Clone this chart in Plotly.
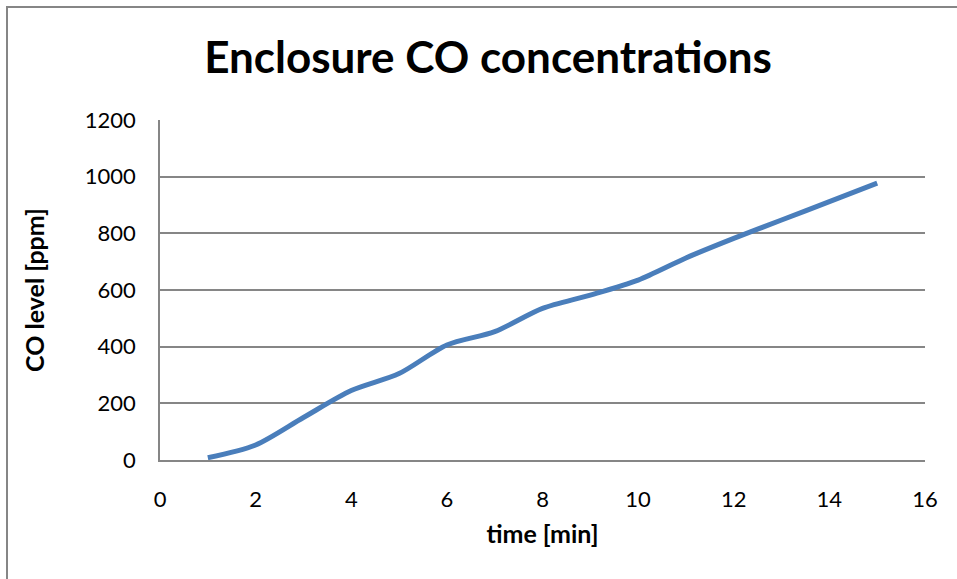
import plotly.graph_objects as go

time_min = [1, 2, 3, 4, 5, 6, 7, 8, 9, 10, 11, 12, 13, 14, 15]
co_ppm = [8, 53, 150, 245, 305, 406, 453, 535, 582, 635, 713, 782, 847, 912, 977]

x_ticks = [0, 2, 4, 6, 8, 10, 12, 14, 16]
y_ticks = [0, 200, 400, 600, 800, 1000, 1200]

FONT = "Lato"
GRID = "#868686"

fig = go.Figure()
fig.add_trace(go.Scatter(
    x=time_min, y=co_ppm, mode="lines",
    line=dict(color="#4a7ebb", width=5, shape="spline", smoothing=0.8),
    showlegend=False,
))

L, R, T, B = 160, 32, 120, 119
W, H = 957, 579
pw, ph = W - L - R, H - T - B

fig.update_layout(
    width=W, height=H,
    margin=dict(l=L, r=R, t=T, b=B),
    paper_bgcolor="white", plot_bgcolor="white",
    font=dict(family=FONT, color="black"),
    title=dict(text="<b>Enclosure CO concentrations</b>", x=0.51, xanchor="center",
               y=1 - 58 / H, yanchor="middle", font=dict(family=FONT, size=44, color="black")),
    xaxis=dict(range=[0, 16], tickvals=x_ticks, showgrid=False, zeroline=False,
               showline=True, linecolor=GRID, linewidth=1.5, ticks="",
               ticklabelstandoff=19,
               tickfont=dict(family=FONT, size=22, color="black"),
               title=dict(text="<b>time [min]</b>", font=dict(family=FONT, size=25, color="black"), standoff=14)),
    yaxis=dict(range=[0, 1200], tickvals=y_ticks, showgrid=True, gridcolor=GRID, gridwidth=1.5,
               zeroline=False, showline=True, linecolor=GRID, linewidth=1.5, ticks="",
               ticklabelstandoff=18,
               tickfont=dict(family=FONT, size=22, color="black"),
               title=dict(text="<b>CO level [ppm]</b>", font=dict(family=FONT, size=25, color="black"), standoff=33)),
    shapes=[dict(type="rect", xref="paper", yref="paper",
                 x0=(7 - L) / pw, x1=(W + 20 - L) / pw,
                 y0=(H - B - (H + 20)) / ph, y1=(H - B - 7) / ph,
                 line=dict(color=GRID, width=2), fillcolor="rgba(0,0,0,0)", layer="below")],
)

fig.write_html("out.html", config={"displayModeBar": False},
               post_script="document.body.style.margin='0px';document.body.style.overflow='hidden';")
